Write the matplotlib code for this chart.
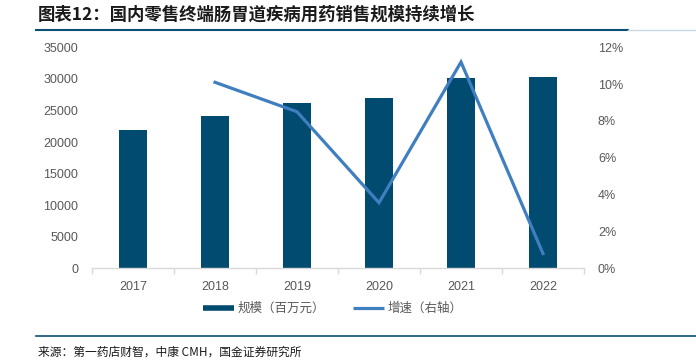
import numpy as np
import matplotlib.pyplot as plt
from matplotlib.lines import Line2D
from matplotlib.ticker import FuncFormatter

plt.rcParams['font.family'] = ['Liberation Sans', 'Noto Sans CJK SC', 'DejaVu Sans']

years = ['2017', '2018', '2019', '2020', '2021', '2022']
scale = [21900, 24100, 26100, 27000, 30100, 30350]   # 百万元
growth_years = ['2018', '2019', '2020', '2021', '2022']
growth = [10.1, 8.5, 3.56, 11.2, 0.8]               # %

bar_color = '#014a70'
line_color = '#3f7fc0'
text_gray = '#595959'
axis_gray = '#d9d9d9'

fig = plt.figure(figsize=(6.96, 3.62), dpi=100)
ax = fig.add_axes([92 / 696, 1 - 268.3 / 362, 492 / 696, 221 / 362])
ax2 = ax.twinx()

x = np.arange(len(years))
ax.bar(x, scale, width=0.33, color=bar_color, zorder=2)
gx = [years.index(y) for y in growth_years]
ax2.plot(gx, growth, color=line_color, linewidth=2.3, solid_joinstyle='miter', zorder=3)

ax.set_xlim(-0.5, len(years) - 0.5)
ax.set_ylim(0, 35000)
ax.set_yticks(np.arange(0, 35001, 5000))
ax2.set_ylim(0, 12)
ax2.set_yticks(np.arange(0, 13, 2))
ax2.yaxis.set_major_formatter(FuncFormatter(lambda v, p: f'{int(v)}%'))

ax.set_xticks(x)
ax.set_xticklabels(years)
ax.set_xticks(np.arange(-0.5, len(years), 1), minor=True)
ax.tick_params(axis='x', which='major', length=0, pad=9, labelsize=9, labelcolor=text_gray)
ax.tick_params(axis='x', which='minor', length=4, color=axis_gray, width=1)
ax.tick_params(axis='y', length=0, pad=10, labelsize=9, labelcolor=text_gray)
ax2.tick_params(axis='y', length=0, pad=10, labelsize=9, labelcolor=text_gray)

for a in (ax, ax2):
    for s in ('top', 'right', 'left'):
        a.spines[s].set_visible(False)
ax2.spines['bottom'].set_visible(False)
ax.spines['bottom'].set_color(axis_gray)
ax.spines['bottom'].set_linewidth(1)

# Legend
handles = [Line2D([], [], color=bar_color, linewidth=4, solid_capstyle='butt'),
           Line2D([], [], color=line_color, linewidth=2.3, solid_capstyle='butt')]
labels = ['规模（百万元）', '增速（右轴）']
fig.legend(handles, labels, loc='center', bbox_to_anchor=(333 / 696, 1 - 309 / 362), ncol=2,
           frameon=False, fontsize=9, labelcolor=text_gray, handlelength=2.5,
           handletextpad=0.3, columnspacing=2.2)

# Title and rules
fig.text(38 / 696, 1 - 15 / 362, '图表12：国内零售终端肠胃道疾病用药销售规模持续增长',
         fontsize=12.5, fontweight='bold', color='#1a1a1a', va='center', ha='left',
         family=['Noto Sans CJK SC', 'DejaVu Sans'])
fig.add_artist(Line2D([36 / 696, 628 / 696], [1 - 30 / 362] * 2, color='#0b4f74', linewidth=1.5))
fig.add_artist(Line2D([628 / 696, 1.0], [1 - 30 / 362] * 2, color='#c9d9e6', linewidth=1))
fig.add_artist(Line2D([36 / 696, 1.0], [1 - 336 / 362] * 2, color='#0b4f74', linewidth=1.2))
fig.text(38 / 696, 1 - 352 / 362, '来源：第一药店财智，中康 CMH，国金证券研究所',
         fontsize=8.5, color='#1a1a1a', va='center', ha='left',
         family=['Noto Sans CJK SC', 'DejaVu Sans'])

fig.savefig('out.png', dpi=100)
